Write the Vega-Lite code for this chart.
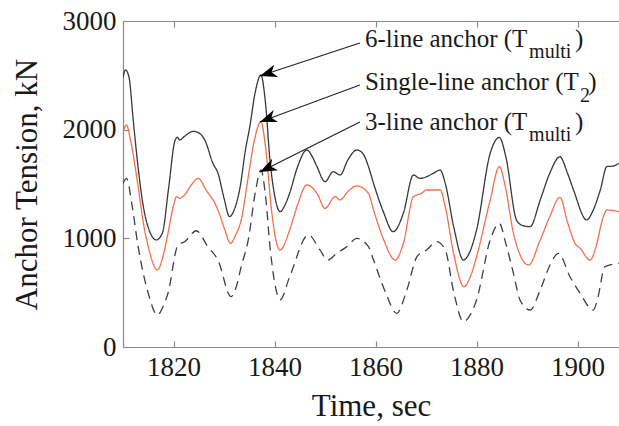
{
  "$schema": "https://vega.github.io/schema/vega-lite/v6.json",
  "width": 496,
  "height": 326,
  "autosize": {"type": "none"},
  "padding": {"left": 123, "top": 21, "right": 0, "bottom": 79},
  "background": "white",
  "config": {
    "view": {"stroke": null},
    "font": "Liberation Serif",
    "axis": {
      "grid": false,
      "domainColor": "#8a8a8a",
      "domainWidth": 1.2,
      "tickColor": "#8a8a8a",
      "tickWidth": 1.2,
      "tickSize": -6,
      "labelColor": "#1a1a1a",
      "titleColor": "#1a1a1a",
      "labelFont": "Liberation Serif",
      "titleFont": "Liberation Serif",
      "titleFontWeight": "normal",
      "labelFontSize": 27,
      "titleFontSize": 31
    }
  },
  "datasets": {
    "series": [
      {"s": "3-line", "t": 1810.0, "v": 1506}, {"s": "3-line", "t": 1810.7, "v": 1552}, {"s": "3-line", "t": 1811.8, "v": 1300}, {"s": "3-line", "t": 1813.0, "v": 923}, {"s": "3-line", "t": 1815.0, "v": 494}, {"s": "3-line", "t": 1816.8, "v": 294}, {"s": "3-line", "t": 1818.0, "v": 380}, {"s": "3-line", "t": 1818.9, "v": 494}, {"s": "3-line", "t": 1820.9, "v": 939}, {"s": "3-line", "t": 1822.2, "v": 969}, {"s": "3-line", "t": 1824.5, "v": 1070}, {"s": "3-line", "t": 1826.8, "v": 923}, {"s": "3-line", "t": 1828.8, "v": 800}, {"s": "3-line", "t": 1831.4, "v": 463}, {"s": "3-line", "t": 1832.4, "v": 550}, {"s": "3-line", "t": 1833.4, "v": 739}, {"s": "3-line", "t": 1834.8, "v": 985}, {"s": "3-line", "t": 1836.3, "v": 1450}, {"s": "3-line", "t": 1837.3, "v": 1630}, {"s": "3-line", "t": 1838.2, "v": 1400}, {"s": "3-line", "t": 1839.1, "v": 923}, {"s": "3-line", "t": 1840.2, "v": 550}, {"s": "3-line", "t": 1841.1, "v": 433}, {"s": "3-line", "t": 1843.0, "v": 647}, {"s": "3-line", "t": 1846.7, "v": 1031}, {"s": "3-line", "t": 1849.0, "v": 893}, {"s": "3-line", "t": 1850.5, "v": 800}, {"s": "3-line", "t": 1852.3, "v": 862}, {"s": "3-line", "t": 1854.3, "v": 923}, {"s": "3-line", "t": 1856.3, "v": 1000}, {"s": "3-line", "t": 1858.6, "v": 923}, {"s": "3-line", "t": 1859.6, "v": 800}, {"s": "3-line", "t": 1862.0, "v": 500}, {"s": "3-line", "t": 1864.2, "v": 310}, {"s": "3-line", "t": 1866.2, "v": 525}, {"s": "3-line", "t": 1868.2, "v": 831}, {"s": "3-line", "t": 1870.1, "v": 893}, {"s": "3-line", "t": 1872.1, "v": 969}, {"s": "3-line", "t": 1873.8, "v": 893}, {"s": "3-line", "t": 1875.5, "v": 500}, {"s": "3-line", "t": 1877.4, "v": 233}, {"s": "3-line", "t": 1878.8, "v": 300}, {"s": "3-line", "t": 1880.0, "v": 433}, {"s": "3-line", "t": 1882.7, "v": 985}, {"s": "3-line", "t": 1884.5, "v": 1138}, {"s": "3-line", "t": 1885.8, "v": 950}, {"s": "3-line", "t": 1887.3, "v": 678}, {"s": "3-line", "t": 1888.6, "v": 433}, {"s": "3-line", "t": 1890.6, "v": 340}, {"s": "3-line", "t": 1892.6, "v": 525}, {"s": "3-line", "t": 1894.5, "v": 750}, {"s": "3-line", "t": 1896.2, "v": 862}, {"s": "3-line", "t": 1898.5, "v": 647}, {"s": "3-line", "t": 1900.5, "v": 494}, {"s": "3-line", "t": 1903.1, "v": 340}, {"s": "3-line", "t": 1904.0, "v": 450}, {"s": "3-line", "t": 1905.4, "v": 739}, {"s": "3-line", "t": 1908.2, "v": 770},

      {"s": "single", "t": 1810.0, "v": 1981}, {"s": "single", "t": 1810.7, "v": 2043}, {"s": "single", "t": 1811.5, "v": 1900}, {"s": "single", "t": 1813.0, "v": 1475}, {"s": "single", "t": 1814.0, "v": 1150}, {"s": "single", "t": 1815.0, "v": 923}, {"s": "single", "t": 1816.8, "v": 709}, {"s": "single", "t": 1818.0, "v": 850}, {"s": "single", "t": 1818.9, "v": 1046}, {"s": "single", "t": 1820.0, "v": 1300}, {"s": "single", "t": 1820.6, "v": 1383}, {"s": "single", "t": 1821.2, "v": 1368}, {"s": "single", "t": 1822.2, "v": 1399}, {"s": "single", "t": 1823.5, "v": 1490}, {"s": "single", "t": 1824.9, "v": 1552}, {"s": "single", "t": 1826.5, "v": 1440}, {"s": "single", "t": 1828.2, "v": 1322}, {"s": "single", "t": 1828.8, "v": 1261}, {"s": "single", "t": 1830.0, "v": 1100}, {"s": "single", "t": 1831.3, "v": 954}, {"s": "single", "t": 1832.3, "v": 1030}, {"s": "single", "t": 1833.4, "v": 1169}, {"s": "single", "t": 1834.8, "v": 1567}, {"s": "single", "t": 1836.0, "v": 1900}, {"s": "single", "t": 1837.3, "v": 2073}, {"s": "single", "t": 1838.2, "v": 1850}, {"s": "single", "t": 1839.4, "v": 1261}, {"s": "single", "t": 1840.2, "v": 1000}, {"s": "single", "t": 1841.1, "v": 893}, {"s": "single", "t": 1843.0, "v": 1077}, {"s": "single", "t": 1844.5, "v": 1300}, {"s": "single", "t": 1846.4, "v": 1491}, {"s": "single", "t": 1848.4, "v": 1414}, {"s": "single", "t": 1850.0, "v": 1276}, {"s": "single", "t": 1852.0, "v": 1383}, {"s": "single", "t": 1853.0, "v": 1353}, {"s": "single", "t": 1854.5, "v": 1430}, {"s": "single", "t": 1856.3, "v": 1482}, {"s": "single", "t": 1858.6, "v": 1414}, {"s": "single", "t": 1859.6, "v": 1261}, {"s": "single", "t": 1861.5, "v": 1000}, {"s": "single", "t": 1863.9, "v": 800}, {"s": "single", "t": 1865.5, "v": 954}, {"s": "single", "t": 1867.5, "v": 1383}, {"s": "single", "t": 1869.1, "v": 1414}, {"s": "single", "t": 1870.1, "v": 1445}, {"s": "single", "t": 1872.8, "v": 1445}, {"s": "single", "t": 1873.8, "v": 1291}, {"s": "single", "t": 1875.5, "v": 850}, {"s": "single", "t": 1877.5, "v": 555}, {"s": "single", "t": 1878.8, "v": 650}, {"s": "single", "t": 1880.0, "v": 831}, {"s": "single", "t": 1882.7, "v": 1353}, {"s": "single", "t": 1884.5, "v": 1660}, {"s": "single", "t": 1885.8, "v": 1450}, {"s": "single", "t": 1887.3, "v": 1046}, {"s": "single", "t": 1890.3, "v": 755}, {"s": "single", "t": 1892.6, "v": 985}, {"s": "single", "t": 1894.5, "v": 1200}, {"s": "single", "t": 1896.5, "v": 1377}, {"s": "single", "t": 1898.0, "v": 1150}, {"s": "single", "t": 1899.5, "v": 954}, {"s": "single", "t": 1900.5, "v": 908}, {"s": "single", "t": 1902.5, "v": 800}, {"s": "single", "t": 1903.5, "v": 900}, {"s": "single", "t": 1905.1, "v": 1199}, {"s": "single", "t": 1905.8, "v": 1261}, {"s": "single", "t": 1908.2, "v": 1245},

      {"s": "6-line", "t": 1810.0, "v": 2480}, {"s": "6-line", "t": 1810.5, "v": 2550}, {"s": "6-line", "t": 1811.2, "v": 2480}, {"s": "6-line", "t": 1812.0, "v": 2100}, {"s": "6-line", "t": 1813.0, "v": 1650}, {"s": "6-line", "t": 1814.0, "v": 1300}, {"s": "6-line", "t": 1815.0, "v": 1100}, {"s": "6-line", "t": 1816.6, "v": 985}, {"s": "6-line", "t": 1817.8, "v": 1050}, {"s": "6-line", "t": 1819.0, "v": 1450}, {"s": "6-line", "t": 1820.3, "v": 1900}, {"s": "6-line", "t": 1820.8, "v": 1930}, {"s": "6-line", "t": 1821.2, "v": 1905}, {"s": "6-line", "t": 1822.2, "v": 1940}, {"s": "6-line", "t": 1823.9, "v": 1985}, {"s": "6-line", "t": 1825.0, "v": 1970}, {"s": "6-line", "t": 1826.2, "v": 1905}, {"s": "6-line", "t": 1827.8, "v": 1690}, {"s": "6-line", "t": 1828.8, "v": 1600}, {"s": "6-line", "t": 1830.0, "v": 1370}, {"s": "6-line", "t": 1831.1, "v": 1200}, {"s": "6-line", "t": 1832.0, "v": 1260}, {"s": "6-line", "t": 1833.2, "v": 1475}, {"s": "6-line", "t": 1834.2, "v": 1800}, {"s": "6-line", "t": 1835.1, "v": 2027}, {"s": "6-line", "t": 1836.2, "v": 2350}, {"s": "6-line", "t": 1837.3, "v": 2503}, {"s": "6-line", "t": 1838.2, "v": 2250}, {"s": "6-line", "t": 1839.1, "v": 1720}, {"s": "6-line", "t": 1840.0, "v": 1400}, {"s": "6-line", "t": 1841.1, "v": 1245}, {"s": "6-line", "t": 1842.0, "v": 1300}, {"s": "6-line", "t": 1843.0, "v": 1417}, {"s": "6-line", "t": 1844.5, "v": 1650}, {"s": "6-line", "t": 1846.4, "v": 1813}, {"s": "6-line", "t": 1847.5, "v": 1750}, {"s": "6-line", "t": 1848.4, "v": 1660}, {"s": "6-line", "t": 1850.0, "v": 1521}, {"s": "6-line", "t": 1851.6, "v": 1613}, {"s": "6-line", "t": 1853.0, "v": 1583}, {"s": "6-line", "t": 1854.5, "v": 1720}, {"s": "6-line", "t": 1856.3, "v": 1813}, {"s": "6-line", "t": 1857.5, "v": 1780}, {"s": "6-line", "t": 1858.6, "v": 1660}, {"s": "6-line", "t": 1859.6, "v": 1506}, {"s": "6-line", "t": 1861.5, "v": 1250}, {"s": "6-line", "t": 1863.5, "v": 1061}, {"s": "6-line", "t": 1865.5, "v": 1230}, {"s": "6-line", "t": 1867.5, "v": 1583}, {"s": "6-line", "t": 1868.8, "v": 1552}, {"s": "6-line", "t": 1870.1, "v": 1567}, {"s": "6-line", "t": 1871.5, "v": 1600}, {"s": "6-line", "t": 1872.8, "v": 1629}, {"s": "6-line", "t": 1873.8, "v": 1506}, {"s": "6-line", "t": 1875.5, "v": 1100}, {"s": "6-line", "t": 1877.4, "v": 800}, {"s": "6-line", "t": 1878.7, "v": 880}, {"s": "6-line", "t": 1880.0, "v": 1077}, {"s": "6-line", "t": 1882.7, "v": 1783}, {"s": "6-line", "t": 1884.5, "v": 1929}, {"s": "6-line", "t": 1885.8, "v": 1750}, {"s": "6-line", "t": 1887.9, "v": 1169}, {"s": "6-line", "t": 1889.0, "v": 1120}, {"s": "6-line", "t": 1890.6, "v": 1107}, {"s": "6-line", "t": 1892.6, "v": 1353}, {"s": "6-line", "t": 1894.5, "v": 1600}, {"s": "6-line", "t": 1896.5, "v": 1751}, {"s": "6-line", "t": 1898.0, "v": 1600}, {"s": "6-line", "t": 1899.2, "v": 1445}, {"s": "6-line", "t": 1901.8, "v": 1169}, {"s": "6-line", "t": 1903.0, "v": 1250}, {"s": "6-line", "t": 1904.5, "v": 1445}, {"s": "6-line", "t": 1905.8, "v": 1660}, {"s": "6-line", "t": 1907.0, "v": 1665}, {"s": "6-line", "t": 1908.2, "v": 1690}
    ],
    "mainText": [
      {"label": "6-line anchor (T", "t": 1857.9, "v": 2761},
      {"label": ")", "t": 1899.5, "v": 2761},
      {"label": "Single-line anchor (T", "t": 1857.9, "v": 2365},
      {"label": ")", "t": 1902.1, "v": 2365},
      {"label": "3-line anchor (T", "t": 1857.9, "v": 2000},
      {"label": ")", "t": 1899.5, "v": 2000}
    ],
    "subText": [
      {"label": "multi", "t": 1890.4, "v": 2660},
      {"label": "2", "t": 1900.5, "v": 2257},
      {"label": "multi", "t": 1890.4, "v": 1895}
    ],
    "arrows": [
      {"id": 1, "t0": 1856.9, "v0": 2798, "t1": 1837.1, "v1": 2494},
      {"id": 2, "t0": 1856.9, "v0": 2411, "t1": 1837.1, "v1": 2071},
      {"id": 3, "t0": 1856.9, "v0": 2071, "t1": 1837.1, "v1": 1610}
    ]
  },
  "resolve": {"axis": {"x": "independent"}},
  "layer": [
    {
      "data": {"name": "series"},
      "mark": {"type": "line", "clip": true, "strokeWidth": 1.3, "interpolate": "monotone"},
      "encoding": {
        "x": {"field": "t", "type": "quantitative", "scale": {"domain": [1810, 1908.2], "nice": false, "zero": false},
              "axis": {"orient": "bottom", "values": [1820, 1840, 1860, 1880, 1900], "format": "d", "title": "Time, sec", "labelPadding": 13, "titlePadding": 11}},
        "y": {"field": "v", "type": "quantitative", "scale": {"domain": [0, 3000], "nice": false},
              "axis": {"values": [0, 1000, 2000, 3000], "format": "d", "title": "Anchor Tension, kN", "labelPadding": 13, "titlePadding": 19}},
        "color": {"field": "s", "type": "nominal", "legend": null,
                  "scale": {"domain": ["3-line", "single", "6-line"], "range": ["#404040", "#f2704a", "#383838"]}},
        "strokeDash": {"field": "s", "type": "nominal", "legend": null,
                  "scale": {"domain": ["3-line", "single", "6-line"], "range": [[9, 6], [1, 0], [1, 0]]}},
        "order": {"field": "t", "type": "quantitative"}
      }
    },
    {
      "data": {"name": "arrows"},
      "mark": {"type": "rule", "color": "#222222", "strokeWidth": 1.1},
      "encoding": {
        "x": {"field": "t0", "type": "quantitative", "scale": {"domain": [1810, 1908.2], "nice": false, "zero": false},
              "axis": {"orient": "top", "values": [1820, 1840, 1860, 1880, 1900], "labels": false, "title": null}},
        "y": {"field": "v0", "type": "quantitative"},
        "x2": {"field": "t1"},
        "y2": {"field": "v1"}
      }
    },
    {
      "data": {"name": "arrows"},
      "transform": [{"filter": "datum.id == 1"}],
      "mark": {"type": "point", "shape": "M0,0 L0.38,1 L0,0.72 L-0.38,1 Z", "size": 1156, "angle": 252.6, "filled": true, "color": "#000000", "opacity": 1},
      "encoding": {"x": {"field": "t1", "type": "quantitative", "axis": null}, "y": {"field": "v1", "type": "quantitative"}}
    },
    {
      "data": {"name": "arrows"},
      "transform": [{"filter": "datum.id == 2"}],
      "mark": {"type": "point", "shape": "M0,0 L0.38,1 L0,0.72 L-0.38,1 Z", "size": 1156, "angle": 249.7, "filled": true, "color": "#000000", "opacity": 1},
      "encoding": {"x": {"field": "t1", "type": "quantitative", "axis": null}, "y": {"field": "v1", "type": "quantitative"}}
    },
    {
      "data": {"name": "arrows"},
      "transform": [{"filter": "datum.id == 3"}],
      "mark": {"type": "point", "shape": "M0,0 L0.38,1 L0,0.72 L-0.38,1 Z", "size": 1156, "angle": 243.4, "filled": true, "color": "#000000", "opacity": 1},
      "encoding": {"x": {"field": "t1", "type": "quantitative", "axis": null}, "y": {"field": "v1", "type": "quantitative"}}
    },
    {
      "data": {"name": "mainText"},
      "mark": {"type": "text", "align": "left", "baseline": "alphabetic", "font": "Liberation Serif", "fontSize": 25, "color": "#1a1a1a"},
      "encoding": {"x": {"field": "t", "type": "quantitative", "axis": null}, "y": {"field": "v", "type": "quantitative"}, "text": {"field": "label"}}
    },
    {
      "data": {"name": "subText"},
      "mark": {"type": "text", "align": "left", "baseline": "alphabetic", "font": "Liberation Serif", "fontSize": 20, "color": "#1a1a1a"},
      "encoding": {"x": {"field": "t", "type": "quantitative", "axis": null}, "y": {"field": "v", "type": "quantitative"}, "text": {"field": "label"}}
    }
  ]
}
